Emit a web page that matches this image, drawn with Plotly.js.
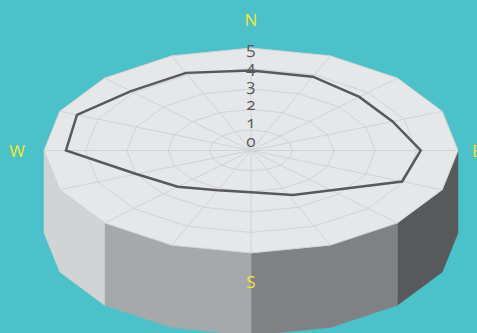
<!DOCTYPE html>
<html>
<head>
<meta charset="utf-8">
<script src="https://cdn.plot.ly/plotly-3.0.1.min.js"></script>
<style>
  html, body { margin: 0; padding: 0; background: #4bc1c9; overflow: hidden; }
  #chart { width: 477px; height: 333px; }
  .textpoint text { font-feature-settings: "onum" 1; }
</style>
</head>
<body>
<div id="chart"></div>
<script>
// Sixteen compass sectors, clockwise from north
const directions = ['N','NNE','NE','ENE','E','ESE','SE','SSE','S','SSW','SW','WSW','W','WNW','NW','NNW'];
const bearings = [0, 22.5, 45, 67.5, 90, 112.5, 135, 155, 180, 202.5, 225, 247.5, 270, 292.5, 315, 337.5];
const values = [3.9, 3.9, 3.7, 3.7, 4.1, 3.95, 2.75, 2.4, 2.04, 2.1, 2.5, 3.0, 4.47, 4.55, 4.1, 4.1];
const ringTicks = [0, 1, 2, 3, 4, 5];
const compassLabels = ['N', 'E', 'S', 'W'];

const outer = 5;           // radial axis maximum
const tilt = 0.495;        // vertical squash of the disc
const depth = 1.99;        // height of the extruded side wall
const pxPerUnit = 41.4;

const colors = {
  bg: '#4bc1c9', top: '#e6e7e8', grid: '#d1d3d4', line: '#58595b',
  tick: '#58595b', compass: '#efe92e',
  walls: ['#58595b', '#808184', '#a7a8ab', '#d1d3d4']
};

const angle = i => i * 2 * Math.PI / directions.length;
const px = (r, i) => r * Math.sin(angle(i));
const py = (r, i) => r * Math.cos(angle(i)) * tilt;

const traces = [];
const poly = (xs, ys, fill, lineColor, lineWidth) => traces.push({
  type: 'scatter', mode: 'lines', x: xs, y: ys, hoverinfo: 'skip',
  fill: fill ? 'toself' : 'none', fillcolor: fill || undefined,
  line: { color: lineColor, width: lineWidth, simplify: false }
});

// Side walls: four shaded quadrants on the near half of the drum
colors.walls.forEach((c, q) => {
  const start = 4 + q * 2;
  const rim = [start, start + 1, start + 2];
  const back = rim.slice().reverse();
  const xs = rim.map(i => px(outer, i)).concat(back.map(i => px(outer, i)));
  const ys = rim.map(i => py(outer, i)).concat(back.map(i => py(outer, i) - depth));
  poly(xs.concat(xs[0]), ys.concat(ys[0]), c, c, 0.5);
});

// Top face
const loop = directions.map((_, i) => i).concat(0);
poly(loop.map(i => px(outer, i)), loop.map(i => py(outer, i)), colors.top, colors.grid, 1);

// Rings
ringTicks.filter(t => t > 0 && t < outer).forEach(t => {
  poly(loop.map(i => px(t, i)), loop.map(i => py(t, i)), null, colors.grid, 1);
});

// Spokes
directions.forEach((_, i) => {
  poly([0, px(outer, i)], [0, py(outer, i)], null, colors.grid, 1);
});

// Data outline
const rad = d => d * Math.PI / 180;
poly(
  loop.map(i => values[i] * Math.sin(rad(bearings[i]))),
  loop.map(i => values[i] * Math.cos(rad(bearings[i])) * tilt),
  null, colors.line, 2.5
);

// Radial tick labels stacked up the north spoke
traces.push({
  type: 'scatter', mode: 'text', cliponaxis: false, hoverinfo: 'skip',
  x: ringTicks.map(() => 0),
  y: ringTicks.map(t => 0.19 + t * 0.448),
  text: ringTicks.map(String),
  textposition: 'middle center',
  textfont: { family: 'Open Sans', size: 17, color: colors.tick }
});

// Compass letters around the drum
const compassX = { N: 0, E: 5.455, S: 0, W: -5.65 };
const compassY = { N: 3.11, E: -0.05, S: -3.22, W: -0.05 };
traces.push({
  type: 'scatter', mode: 'text', cliponaxis: false, hoverinfo: 'skip',
  x: compassLabels.map(k => compassX[k]),
  y: compassLabels.map(k => compassY[k]),
  text: compassLabels,
  textposition: 'middle center',
  textfont: { family: 'Open Sans', size: 17, color: colors.compass }
});

const layout = {
  width: 477, height: 333,
  margin: { l: 0, r: 0, t: 0, b: 0, pad: 0 },
  paper_bgcolor: colors.bg, plot_bgcolor: colors.bg,
  showlegend: false,
  xaxis: { visible: false, range: [-251 / pxPerUnit, 226 / pxPerUnit], fixedrange: true },
  yaxis: { visible: false, range: [-182.5 / pxPerUnit, 150.5 / pxPerUnit], fixedrange: true }
};

Plotly.newPlot('chart', traces, layout, { displayModeBar: false, staticPlot: true });
</script>
</body>
</html>
